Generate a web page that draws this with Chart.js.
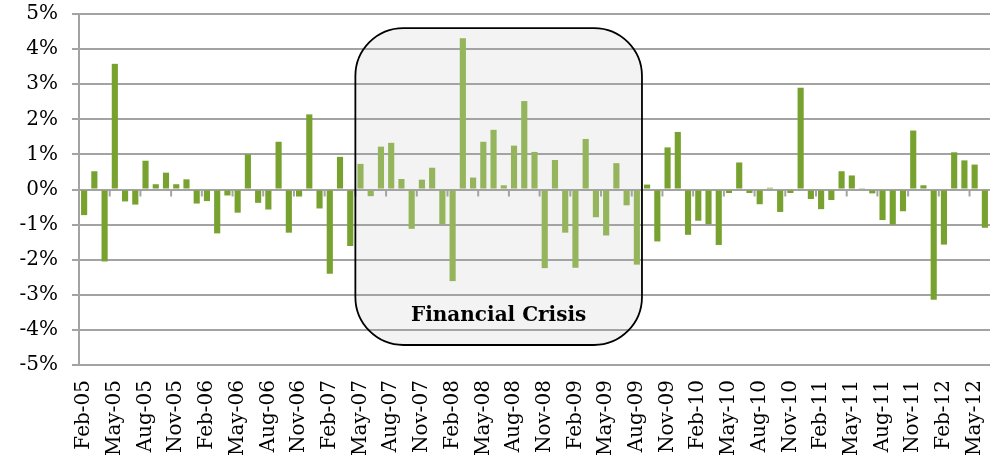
<!DOCTYPE html>
<html>
<head>
<meta charset="utf-8">
<script src="https://cdn.jsdelivr.net/npm/chart.js@4"></script>
<style>
  html, body { margin: 0; padding: 0; background: #fff; }
  #wrap { width: 995px; height: 459px; }
</style>
</head>
<body>
<div id="wrap"><canvas id="chartReturns"></canvas></div>
<script>
/* Monthly returns, Feb-05 .. Jun-12 */
const months = [
  'Feb-05','Mar-05','Apr-05','May-05','Jun-05','Jul-05','Aug-05','Sep-05','Oct-05','Nov-05','Dec-05',
  'Jan-06','Feb-06','Mar-06','Apr-06','May-06','Jun-06','Jul-06','Aug-06','Sep-06','Oct-06','Nov-06','Dec-06',
  'Jan-07','Feb-07','Mar-07','Apr-07','May-07','Jun-07','Jul-07','Aug-07','Sep-07','Oct-07','Nov-07','Dec-07',
  'Jan-08','Feb-08','Mar-08','Apr-08','May-08','Jun-08','Jul-08','Aug-08','Sep-08','Oct-08','Nov-08','Dec-08',
  'Jan-09','Feb-09','Mar-09','Apr-09','May-09','Jun-09','Jul-09','Aug-09','Sep-09','Oct-09','Nov-09','Dec-09',
  'Jan-10','Feb-10','Mar-10','Apr-10','May-10','Jun-10','Jul-10','Aug-10','Sep-10','Oct-10','Nov-10','Dec-10',
  'Jan-11','Feb-11','Mar-11','Apr-11','May-11','Jun-11','Jul-11','Aug-11','Sep-11','Oct-11','Nov-11','Dec-11',
  'Jan-12','Feb-12','Mar-12','Apr-12','May-12','Jun-12',
];

const returns = [
  -0.73, 0.52, -2.05, 3.58, -0.34, -0.43, 0.82, 0.15, 0.48, 0.15, 0.29, -0.40,
  -0.33, -1.25, -0.17, -0.66, 1.00, -0.38, -0.57, 1.36, -1.23, -0.20, 2.14, -0.54,
  -2.40, 0.93, -1.61, 0.73, -0.19, 1.22, 1.33, 0.30, -1.12, 0.28, 0.62, -0.99,
  -2.61, 4.31, 0.34, 1.36, 1.70, 0.12, 1.25, 2.52, 1.07, -2.24, 0.84, -1.23,
  -2.23, 1.44, -0.79, -1.31, 0.75, -0.45, -2.14, 0.14, -1.48, 1.20, 1.64, -1.29,
  -0.89, -0.99, -1.58, -0.10, 0.77, -0.10, -0.42, 0.05, -0.64, -0.10, 2.90, -0.27,
  -0.56, -0.30, 0.52, 0.40, 0.02, -0.11, -0.87, -1.00, -0.62, 1.68, 0.12, -3.14,
  -1.57, 1.06, 0.83, 0.71, -1.09,
];

const crisisStart = 'May-07';
const crisisEnd   = 'Aug-09';
const crisisTop   = 4.6;    // % value where the box starts
const crisisBottom = -4.43;
const crisisText  = 'Financial Crisis';

const GREEN  = '#78a22f';
const GREEN2 = '#94b55b';
const GRID   = '#a3a3a3';
const FONT   = "'DejaVu Serif', serif";

const iStart = months.indexOf(crisisStart);
const iEnd   = months.indexOf(crisisEnd);
const barColors = months.map((m, i) => (i >= iStart && i <= iEnd) ? GREEN2 : GREEN);

/* box geometry from the scales */
function crisisRect(chart) {
  const x = chart.scales.x, y = chart.scales.y;
  const half = (x.getPixelForValue(1) - x.getPixelForValue(0)) / 2;
  return {
    l: x.getPixelForValue(iStart) - half,
    r: x.getPixelForValue(iEnd) + half,
    t: y.getPixelForValue(crisisTop),
    b: y.getPixelForValue(crisisBottom),
  };
}

/* rounded rectangle path built from arcs */
function boxPath(ctx, r, rad) {
  ctx.beginPath();
  ctx.moveTo(r.l + rad, r.t);
  ctx.lineTo(r.r - rad, r.t);
  ctx.arc(r.r - rad, r.t + rad, rad, -Math.PI / 2, 0);
  ctx.lineTo(r.r, r.b - rad);
  ctx.arc(r.r - rad, r.b - rad, rad, 0, Math.PI / 2);
  ctx.lineTo(r.l + rad, r.b);
  ctx.arc(r.l + rad, r.b - rad, rad, Math.PI / 2, Math.PI);
  ctx.lineTo(r.l, r.t + rad);
  ctx.arc(r.l + rad, r.t + rad, rad, Math.PI, Math.PI * 1.5);
  ctx.closePath();
}

const crisisBox = {
  id: 'crisisBox',
  beforeDraw(chart) {
    const { ctx } = chart;
    ctx.save();
    boxPath(ctx, crisisRect(chart), 48);
    ctx.fillStyle = '#f3f3f3';
    ctx.fill();
    ctx.restore();
  },
  afterDatasetsDraw(chart) {
    const { ctx } = chart;
    const x = chart.scales.x, y = chart.scales.y;
    const y0 = y.getPixelForValue(0);

    /* category tick marks on the zero line, every 3 months */
    ctx.save();
    ctx.strokeStyle = GRID;
    ctx.lineWidth = 2;
    for (let i = 3; i < months.length; i += 3) {
      const px = (x.getPixelForValue(i - 1) + x.getPixelForValue(i)) / 2;
      ctx.beginPath();
      ctx.moveTo(px, y0);
      ctx.lineTo(px, y0 + 7);
      ctx.stroke();
    }

    /* box border + caption */
    const r = crisisRect(chart);
    boxPath(ctx, r, 48);
    ctx.strokeStyle = '#000';
    ctx.lineWidth = 1.8;
    ctx.stroke();

    ctx.fillStyle = '#000';
    ctx.font = 'bold 20px ' + FONT;
    ctx.textAlign = 'center';
    ctx.textBaseline = 'alphabetic';
    ctx.fillText(crisisText, (r.l + r.r) / 2, r.b - 24);
    ctx.restore();
  },
};

new Chart(document.getElementById('chartReturns'), {
  type: 'bar',
  data: {
    labels: months,
    datasets: [{
      data: returns,
      backgroundColor: barColors,
      borderWidth: 0,
      barPercentage: 0.6,
      categoryPercentage: 1.0,
    }],
  },
  options: {
    responsive: true,
    maintainAspectRatio: false,
    animation: false,
    layout: { padding: { top: 14, right: 5, left: 0, bottom: 0 } },
    plugins: {
      legend: { display: false },
      tooltip: { enabled: false },
    },
    scales: {
      x: {
        grid: { display: false, drawTicks: false },
        border: { display: false },
        ticks: {
          autoSkip: false,
          maxRotation: 90,
          minRotation: 90,
          padding: 15,
          color: '#000',
          font: { family: FONT, size: 20 },
          callback: (v, i) => i % 3 === 0 ? months[i] : '',
        },
        afterFit: s => {
          s.height = 94;
          s.paddingLeft = 0;
          s.paddingRight = 0;
        },
      },
      y: {
        min: -5,
        max: 5,
        grid: { color: GRID, lineWidth: 2, tickLength: 7 },
        border: { color: GRID, width: 2 },
        ticks: {
          stepSize: 1,
          padding: 14,
          color: '#000',
          font: { family: FONT, size: 20 },
          callback: v => v + '%',
        },
        afterFit: s => {
          s.width = 79;
          s.paddingTop = 0;
          s.paddingBottom = 0;
        },
      },
    },
  },
  plugins: [crisisBox],
});
</script>
</body>
</html>
